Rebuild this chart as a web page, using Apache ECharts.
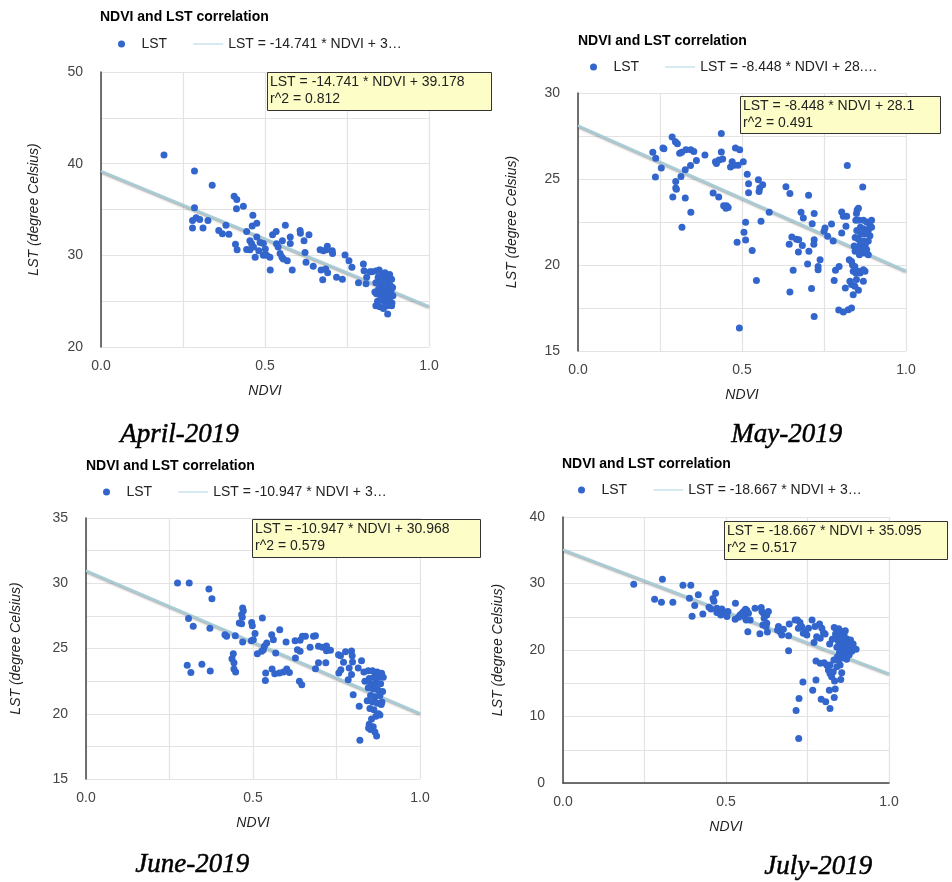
<!DOCTYPE html>
<html>
<head>
<meta charset="utf-8">
<script src="https://cdn.jsdelivr.net/npm/echarts@6/dist/echarts.min.js"></script>
<style>
html,body{margin:0;padding:0;background:#fff;}
#chart{width:952px;height:882px;}
</style>
</head>
<body>
<div id="chart"></div>
<script>
// ---------- DATA ----------
const months = ['April-2019', 'May-2019', 'June-2019', 'July-2019'];
const slopes = [-14.741, -8.448, -10.947, -18.667];
const intercepts = [39.178, 28.1, 30.968, 35.095];
const rSquared = ['0.812', '0.491', '0.579', '0.517'];
const eqNames = ['LST = -14.741 * NDVI + 39.178', 'LST = -8.448 * NDVI + 28.1', 'LST = -10.947 * NDVI + 30.968', 'LST = -18.667 * NDVI + 35.095'];
const eqLegend = ['LST = -14.741 * NDVI + 3\u2026', 'LST = -8.448 * NDVI + 28.\u2026', 'LST = -10.947 * NDVI + 3\u2026', 'LST = -18.667 * NDVI + 3\u2026'];
const yMin = [20, 15, 15, 0];
const yMax = [50, 30, 35, 40];
const yStep = [10, 5, 5, 10];

const aprNdvi = [0.192,0.285,0.339,0.406,0.414,0.413,0.434,0.285,0.463,0.279,0.290,0.301,0.326,0.279,0.311,0.359,0.370,0.381,0.390,0.461,0.475,0.444,0.562,0.523,0.534,0.577,0.607,0.608,0.634,0.553,0.619,0.577,0.410,0.415,0.444,0.454,0.459,0.475,0.485,0.495,0.501,0.465,0.454,0.481,0.470,0.495,0.505,0.515,0.516,0.535,0.540,0.546,0.552,0.556,0.568,0.583,0.622,0.625,0.647,0.668,0.678,0.690,0.688,0.705,0.706,0.671,0.685,0.691,0.676,0.718,0.736,0.744,0.756,0.765,0.785,0.800,0.802,0.808,0.810,0.820,
0.826,0.838,0.848,0.858,0.866,0.874,0.845,0.855,0.865,0.876,0.886,0.838,0.850,0.860,0.870,0.882,0.889,0.846,0.856,0.866,0.876,0.884,0.840,0.852,0.862,0.872,0.881,0.890,0.843,0.855,0.866,0.878,0.887,0.838,0.850,0.861,0.872,0.886,0.874,0.835,0.880,0.870,0.860];
const aprLst = [40.94,39.19,37.65,36.45,36.08,35.09,35.35,35.2,34.36,33.81,34.1,33.9,33.8,32.97,32.97,32.72,32.35,33.27,32.3,33.2,33.5,32.6,33.27,32.24,32.6,31.99,32.7,32.4,32.24,31.6,31.6,31.3,31.2,30.6,30.64,31.6,31.3,32.0,31.4,31.3,30.7,30.9,30.6,30.5,29.8,30.0,30.0,29.8,28.4,31.26,30.9,30.2,29.8,29.6,29.4,28.4,30.3,29.25,28.8,30.6,30.5,31.0,30.6,30.5,30.2,28.4,28.5,28.1,27.35,27.6,27.4,30.05,29.4,28.7,27.0,29.06,28.33,26.9,27.6,28.2,
28.2,28.3,28.4,28.0,28.1,27.8,27.6,27.5,27.4,27.3,27.4,27.0,26.9,26.8,26.9,26.7,26.5,26.3,26.2,26.4,26.1,26.0,25.8,25.6,25.7,25.5,25.4,25.6,25.0,25.1,24.9,25.0,24.8,24.5,24.4,24.2,24.5,24.5,23.6,26.0,27.9,25.2,27.1];

const mayNdvi = [0.287,0.297,0.303,0.259,0.262,0.228,0.237,0.310,0.316,0.329,0.344,0.353,0.361,0.387,0.419,0.422,0.430,0.441,0.437,0.437,0.480,0.493,0.504,0.470,0.465,0.476,0.488,0.343,0.327,0.314,0.298,0.298,0.300,0.289,0.254,0.236,0.327,0.344,0.317,0.412,0.429,0.444,0.453,0.458,0.451,0.516,0.520,0.520,0.550,0.563,0.554,0.552,0.583,0.558,0.511,0.506,0.511,0.485,0.531,0.544,0.492,0.634,0.646,0.703,0.680,0.687,0.720,0.714,0.652,0.666,0.673,0.644,0.684,0.720,0.719,0.704,0.672,0.738,0.700,0.732,0.732,0.656,0.646,0.712,0.720,0.750,0.753,0.761,0.773,0.778,0.804,0.809,0.819,0.817,0.804,0.821,0.868,0.851,0.855,0.849,0.785,0.781,0.796,0.815,0.827,0.834,0.837,0.844,0.839,0.847,0.855,0.860,0.870,0.875,0.870,0.849,0.829,0.834,0.844,0.855,0.839,0.834,0.824,0.809,0.795,
0.847,0.857,0.870,0.880,0.890,0.895,0.861,0.872,0.885,0.850,0.862,0.875,0.890,0.845,0.855,0.870,0.885,0.861,0.876,0.842,0.852,0.866,0.880,0.845,0.858,0.872,0.885,0.895,0.880];
const mayLst = [27.44,27.17,27.05,26.8,26.76,26.55,26.2,26.5,26.55,26.7,26.7,26.6,26.07,26.4,26.0,25.9,26.1,26.16,27.64,26.57,26.8,26.7,26.0,26.0,25.7,25.8,25.8,25.78,25.54,25.14,24.86,24.48,24.4,23.95,25.64,25.12,23.9,23.06,22.2,24.19,23.95,23.45,23.45,23.35,23.3,25.27,24.73,24.2,24.96,24.67,24.48,24.28,23.06,22.54,22.48,21.9,21.45,21.32,20.85,19.1,16.34,24.55,24.15,24.05,23.06,22.73,23.0,22.4,21.63,21.5,21.47,21.2,21.14,21.47,21.2,20.8,20.76,20.3,20.06,19.92,19.73,19.69,18.43,18.64,17.0,21.96,22.15,21.67,22.38,21.4,23.08,22.83,22.83,22.25,21.86,25.78,24.53,23.2,23.3,23.0,19.69,19.1,19.92,18.66,20.3,20.2,20.0,19.92,19.63,19.53,19.63,19.53,19.73,19.63,19.05,19.15,19.05,18.86,18.76,18.53,18.27,17.5,17.4,17.27,17.38,
22.6,22.6,22.6,22.5,22.3,22.2,22.2,22.1,22.0,22.0,21.8,21.8,21.7,21.6,21.5,21.4,21.4,21.2,21.2,21.1,21.0,20.9,20.9,20.8,20.6,20.7,20.6,22.6,21.9];

const junNdvi = [0.274,0.309,0.368,0.377,0.307,0.321,0.371,0.303,0.314,0.347,0.372,0.416,0.421,0.447,0.469,0.471,0.466,0.468,0.459,0.466,0.469,0.441,0.437,0.443,0.443,0.448,0.496,0.498,0.528,0.506,0.501,0.495,0.534,0.531,0.526,0.513,0.541,0.556,0.561,0.580,0.568,0.599,0.626,0.633,0.641,0.648,0.657,0.681,0.687,0.641,0.627,0.671,0.696,0.708,0.720,0.720,0.732,0.538,0.537,0.557,0.565,0.579,0.591,0.601,0.609,0.639,0.646,0.687,0.696,0.718,0.756,0.762,0.777,0.795,0.797,0.825,0.771,0.757,0.763,0.788,0.798,0.815,0.795,0.785,0.800,0.818,0.820,
0.832,0.845,0.858,0.872,0.885,0.890,0.877,0.862,0.848,0.835,0.852,0.868,0.882,0.845,0.860,0.875,0.888,0.852,0.866,0.880,0.842,0.858,0.872,0.884,0.850,0.862,0.876,0.868,0.855,0.848,0.860,0.852,0.865,0.870,0.846,0.880,0.886,0.866];
const junLst = [30.02,30.02,29.56,28.82,27.29,26.7,26.55,23.71,23.17,23.79,23.28,26.06,25.93,25.98,28.1,27.9,27.6,27.4,26.95,26.9,25.5,24.6,24.22,23.9,23.43,23.2,27.0,26.75,27.34,26.14,25.68,25.6,25.17,24.9,24.78,24.6,25.42,26.06,25.68,26.44,24.65,25.5,25.6,24.9,25.63,25.93,25.93,25.93,25.98,24.78,24.27,25.1,25.17,25.1,25.2,24.83,24.86,23.12,22.54,23.43,23.07,23.12,23.2,23.43,23.17,22.5,22.23,23.45,23.9,23.9,24.53,24.45,24.76,24.8,24.45,24.07,23.94,23.12,23.38,23.5,23.97,23.5,23.0,22.6,21.46,20.57,17.96,
23.2,23.3,23.3,23.2,23.1,22.8,22.8,22.8,22.7,22.5,22.3,22.4,22.3,22.0,21.9,21.8,21.7,21.4,21.3,21.4,21.0,20.9,20.8,20.7,20.4,20.3,20.0,19.8,19.6,19.2,19.0,18.8,18.6,18.3,18.9,19.9,20.9,22.0];

const julNdvi = [0.217,0.305,0.281,0.302,0.337,0.368,0.392,0.388,0.415,0.404,0.396,0.429,0.468,0.460,0.463,0.448,0.454,0.472,0.480,0.487,0.492,0.497,0.506,0.472,0.484,0.503,0.529,0.528,0.538,0.543,0.549,0.554,0.560,0.564,0.557,0.562,0.569,0.574,0.567,0.589,0.608,0.610,0.615,0.625,0.630,0.617,0.625,0.613,0.623,0.604,0.627,0.661,0.666,0.671,0.658,0.676,0.692,0.692,0.694,0.712,0.719,0.727,0.732,0.722,0.737,0.748,0.743,0.753,0.764,0.773,0.787,0.794,0.799,0.804,0.789,0.778,0.770,0.736,0.724,0.715,0.723,0.776,0.766,0.792,0.806,0.819,0.832,0.817,0.835,0.833,0.852,0.776,0.789,0.801,0.809,0.814,0.819,0.824,0.829,0.840,0.855,0.850,0.845,0.855,0.819,0.831,
0.832,0.846,0.840,0.855,0.862,0.848,0.835,0.858,0.870,0.882,0.845,0.865,0.878,0.890,0.899,0.852,0.870,0.884,0.840,0.858,0.874,0.886,0.848,0.862,0.878,0.842,0.856,0.870,0.836,0.826,0.818,0.866];
const julLst = [29.9,30.65,27.64,27.19,27.19,29.75,29.75,27.79,28.29,26.68,25.08,25.43,28.54,27.74,27.34,26.43,26.18,26.28,25.93,26.18,25.78,25.53,25.78,25.63,25.28,25.03,27.04,24.62,24.92,25.28,25.53,25.78,26.13,25.93,25.03,24.52,25.53,24.52,22.76,26.28,26.38,25.78,25.53,25.28,25.78,24.77,24.02,23.77,23.52,22.46,22.71,23.52,22.76,22.26,23.02,23.12,19.9,22.16,23.9,24.52,24.52,24.12,23.52,23.27,22.51,22.26,22.76,23.27,24.52,23.52,23.92,23.27,22.61,22.41,21.76,22.01,21.11,15.2,12.71,10.9,6.68,15.48,13.96,12.6,12.2,11.2,12.86,13.96,14.12,15.33,15.58,18.34,17.99,18.09,17.74,16.98,16.48,15.98,16.73,17.49,16.58,17.74,18.49,19.5,17.74,18.49,
23.4,23.2,22.6,22.8,22.3,22.0,21.8,21.6,21.7,21.5,21.3,21.1,21.0,20.9,20.1,20.8,20.5,20.4,20.4,20.1,19.9,19.8,19.6,19.4,19.3,19.0,18.8,18.6,22.4,21.6,20.9,22.9];

const ndviSets = [aprNdvi, mayNdvi, junNdvi, julNdvi];
const lstSets = [aprLst, mayLst, junLst, julLst];

// ---------- LAYOUT ----------
const grids = [
  {left: 101, top: 72, width: 328, height: 275},
  {left: 578, top: 93, width: 328, height: 258},
  {left: 86, top: 518, width: 334, height: 261},
  {left: 563, top: 517, width: 326, height: 266}
];
const yNameGap = [60, 59, 63, 58];
const titlePos = [[100, 10], [578, 34], [86, 459], [562, 457]];
const legendPos = [[106, 37], [578, 60], [91, 485], [566, 483]];
const boxPos = [[267, 72, 224, 38], [740, 96, 200, 37], [252, 519, 228, 38], [724, 521, 223, 38]];
const captionPos = [[120, 421], [731, 421], [135, 851], [764, 853]];

const FONT = '"Liberation Sans", Arial, sans-serif';
const gridColor = '#e3e3e3';

const option = {
  animation: false,
  backgroundColor: '#ffffff',
  title: [], grid: [], xAxis: [], yAxis: [], series: [], legend: [], graphic: []
};

for (let i = 0; i < 4; i++) {
  option.title.push({
    text: 'NDVI and LST correlation', left: titlePos[i][0], top: titlePos[i][1], padding: 0,
    textStyle: {fontFamily: FONT, fontSize: 14, fontWeight: 'bold', color: '#000'}
  });
  option.grid.push(Object.assign({containLabel: false}, grids[i]));
  option.xAxis.push({
    type: 'value', gridIndex: i, min: 0, max: 1, interval: 0.5,
    name: 'NDVI', nameLocation: 'middle', nameGap: 37,
    nameTextStyle: {fontFamily: FONT, fontSize: 14, fontStyle: 'italic', color: '#222'},
    axisLine: {show: i === 3, onZero: false, lineStyle: {color: '#444', width: 1.5}},
    axisTick: {show: false},
    axisLabel: {fontFamily: FONT, fontSize: 14, color: '#444', margin: 12, formatter: v => v.toFixed(1)},
    splitLine: {show: true, lineStyle: {color: gridColor, width: 1.2}},
    minorTick: {show: false, splitNumber: 2},
    minorSplitLine: {show: true, lineStyle: {color: gridColor, width: 1.2}}
  });
  option.yAxis.push({
    type: 'value', gridIndex: i, min: yMin[i], max: yMax[i], interval: yStep[i],
    name: 'LST (degree Celsius)', nameLocation: 'middle', nameGap: yNameGap[i],
    nameTextStyle: {fontFamily: FONT, fontSize: 14, fontStyle: 'italic', color: '#222'},
    axisLine: {show: true, onZero: false, lineStyle: {color: '#444', width: 1.5}},
    axisTick: {show: false},
    axisLabel: {fontFamily: FONT, fontSize: 14, color: '#444', margin: 18},
    splitLine: {show: true, lineStyle: {color: gridColor, width: 1.2}},
    minorTick: {show: false, splitNumber: 2},
    minorSplitLine: {show: true, lineStyle: {color: gridColor, width: 1.2}}
  });
  option.series.push({
    name: eqNames[i], type: 'line', xAxisIndex: i, yAxisIndex: i, z: 2,
    showSymbol: false, symbol: 'none', silent: true,
    data: [[0, intercepts[i]], [1, intercepts[i] + slopes[i]]],
    lineStyle: {color: '#a8ccd6', width: 2.5, shadowColor: 'rgba(60,60,60,0.45)', shadowBlur: 2, shadowOffsetY: 1.2},
    itemStyle: {color: '#c9e3ee'}
  });
  option.series.push({
    name: 'LST', type: 'scatter', xAxisIndex: i, yAxisIndex: i, z: 3,
    symbolSize: 7,
    itemStyle: {color: '#3366cc', opacity: 1},
    data: ndviSets[i].map((x, k) => [x, lstSets[i][k]])
  });
  const labels = {};
  labels[eqNames[i]] = eqLegend[i];
  option.legend.push({
    left: legendPos[i][0] + 12, top: legendPos[i][1], padding: 0,
    itemWidth: 30, itemHeight: 7, itemGap: 26, selectedMode: false,
    textStyle: {fontFamily: FONT, fontSize: 14, color: '#222'},
    formatter: name => labels[name] || name,
    data: [
      {name: 'LST', icon: 'circle', itemStyle: {color: '#3366cc'}},
      {name: eqNames[i], icon: 'path://M0,0H40V2H0Z', itemStyle: {color: '#c9e3ee'}}
    ]
  });
  const b = boxPos[i];
  option.graphic.push({
    type: 'rect', left: b[0], top: b[1], z: 100, zlevel: 1,
    shape: {x: 0, y: 0, width: b[2], height: b[3]},
    style: {fill: '#fdfdc8', stroke: '#333', lineWidth: 1}
  });
  option.graphic.push({
    type: 'text', left: b[0] + 3, top: b[1] + 2, z: 101, zlevel: 1,
    style: {text: eqNames[i] + '\nr^2 = ' + rSquared[i], font: '14px ' + FONT, fill: '#222', lineHeight: 17}
  });
  option.graphic.push({
    type: 'text', left: captionPos[i][0], top: captionPos[i][1], z: 100,
    style: {text: months[i], font: 'italic 27px "Liberation Serif", "DejaVu Serif", serif', fill: '#000', stroke: '#000', lineWidth: 0.5}
  });
}

const chart = echarts.init(document.getElementById('chart'), null, {renderer: 'canvas'});
chart.setOption(option);
</script>
</body>
</html>
